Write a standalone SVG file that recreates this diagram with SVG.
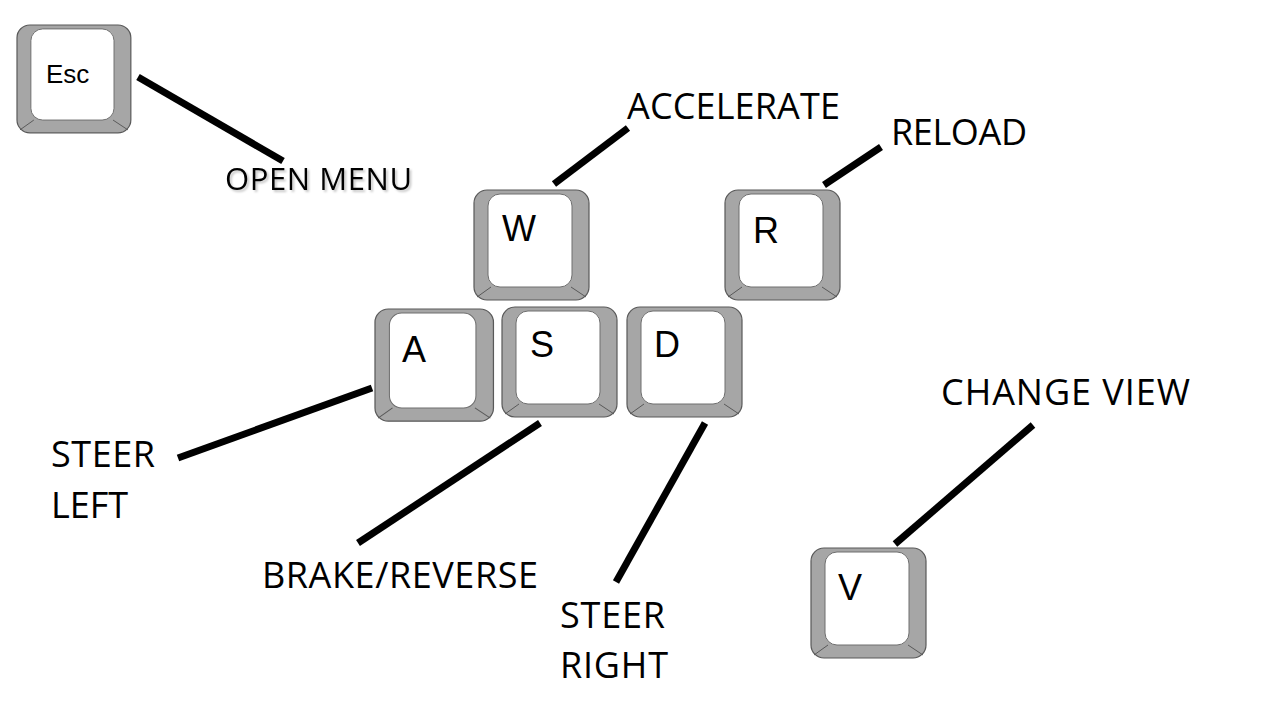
<svg xmlns="http://www.w3.org/2000/svg" width="1280" height="720" viewBox="0 0 1280 720">
  <defs>
    <filter id="shadow" x="-10%" y="-30%" width="130%" height="180%">
      <feDropShadow dx="2" dy="2" stdDeviation="1" flood-color="#000" flood-opacity="0.22"/>
    </filter>
    <g id="keycap">
      <rect class="outer" x="0" y="0" width="115" height="110" rx="13" ry="13"/>
      <line class="edge" x1="17" y1="97" x2="3" y2="107"/>
      <line class="edge" x1="97" y1="97" x2="112" y2="107"/>
      <rect class="inner" x="14" y="4" width="84" height="93" rx="12" ry="12"/>
    </g>
  </defs>
  <style>
    .outer { fill: #a6a6a6; stroke: #595959; stroke-width: 1.2; }
    .inner { fill: #ffffff; stroke: #6f6f6f; stroke-width: 1; }
    .edge { stroke: #595959; stroke-width: 1; }
    .keytxt { font-family: "Liberation Sans", Arial, sans-serif; font-size: 36px; fill: #000; }
    .label { font-family: "Open Sans", "Noto Sans", sans-serif; font-size: 36px; fill: #000; }
    .conn line { stroke: #000; stroke-width: 7; stroke-linecap: butt; }
  </style>
  <rect width="1280" height="720" fill="#ffffff"/>

  <g id="key-esc">
    <use href="#keycap" transform="translate(17,25) scale(0.99,0.98)"/>
    <text class="keytxt" x="46" y="83" style="font-size:26px">Esc</text>
  </g>
  <g id="key-w">
    <use href="#keycap" transform="translate(474,190)"/>
    <text class="keytxt" x="502" y="241">W</text>
  </g>
  <g id="key-r">
    <use href="#keycap" transform="translate(725,190)"/>
    <text class="keytxt" x="753" y="243">R</text>
  </g>
  <g id="key-a">
    <use href="#keycap" transform="translate(375,309) scale(1.03,1.02)"/>
    <text class="keytxt" x="402" y="362">A</text>
  </g>
  <g id="key-s">
    <use href="#keycap" transform="translate(502,307)"/>
    <text class="keytxt" x="530" y="357">S</text>
  </g>
  <g id="key-d">
    <use href="#keycap" transform="translate(627,307)"/>
    <text class="keytxt" x="654" y="357">D</text>
  </g>
  <g id="key-v">
    <use href="#keycap" transform="translate(811,548)"/>
    <text class="keytxt" x="838" y="600">V</text>
  </g>

  <g id="connectors" class="conn">
    <line x1="138" y1="77" x2="283" y2="161"/>
    <line x1="554" y1="184" x2="628" y2="128"/>
    <line x1="824" y1="185" x2="881" y2="147"/>
    <line x1="178" y1="458" x2="372" y2="388"/>
    <line x1="540" y1="423" x2="358" y2="543"/>
    <line x1="705" y1="423" x2="616" y2="582"/>
    <line x1="1033" y1="425" x2="895" y2="544"/>
  </g>

  <g id="labels">
    <text class="label" x="225" y="190" filter="url(#shadow)" style="font-size:31px" textLength="187">OPEN MENU</text>
    <text class="label" x="627" y="119" textLength="213">ACCELERATE</text>
    <text class="label" x="891" y="145" textLength="136">RELOAD</text>
    <text class="label" x="51" y="467" textLength="104">STEER</text>
    <text class="label" x="51" y="518" textLength="77">LEFT</text>
    <text class="label" x="262" y="588" textLength="276">BRAKE/REVERSE</text>
    <text class="label" x="560" y="628" textLength="105">STEER</text>
    <text class="label" x="560" y="678" textLength="108">RIGHT</text>
    <text class="label" x="941" y="405" textLength="249">CHANGE VIEW</text>
  </g>
</svg>
